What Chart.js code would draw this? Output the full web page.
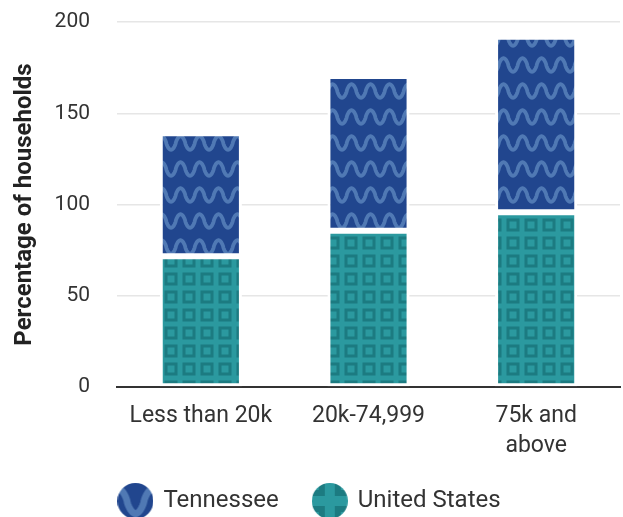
<!DOCTYPE html>
<html>
<head>
<meta charset="utf-8">
<script src="https://cdn.jsdelivr.net/npm/chart.js@4"></script>
<style>
  html, body { margin: 0; padding: 0; background: #fff; overflow: hidden; }
  #wrap { width: 623px; height: 523px; }
</style>
</head>
<body>
<div id="wrap"><canvas id="chart" width="623" height="523"></canvas></div>
<script>
const categories = ['Less than 20k', '20k-74,999', ['75k and', 'above']];
const unitedStates = [71.6, 85.6, 95.7];
const tennessee = [67.4, 84.8, 96.2];
const yTicks = [0, 50, 100, 150, 200];

const NAVY = '#21468e';
const NAVY_WAVE = '#5079b4';
const TEAL = '#2b999f';
const TEAL_DARK = '#1c7b81';

// wavy pattern for Tennessee
function waveTile(s) {
  const w = 19 * s, h = 26 * s;
  const c = document.createElement('canvas');
  c.width = w; c.height = h;
  const g = c.getContext('2d');
  g.fillStyle = NAVY;
  g.fillRect(0, 0, w, h);
  g.strokeStyle = NAVY_WAVE;
  g.lineWidth = 3.8 * s;
  g.lineJoin = 'round';
  const amp = 6.8 * s, mid = h / 2;
  g.beginPath();
  for (let x = -3; x <= w + 3; x += 0.5) {
    // sharpened sine so the crests look like a zigzag
    const t = Math.cos(2 * Math.PI * x / w);
    const y = mid + amp * Math.sign(t) * Math.pow(Math.abs(t), 0.75);
    if (x === -3) g.moveTo(x, y); else g.lineTo(x, y);
  }
  g.stroke();
  return c;
}

// square grid pattern for United States
function squareTile(s) {
  const w = 18 * s;
  const c = document.createElement('canvas');
  c.width = w; c.height = w;
  const g = c.getContext('2d');
  g.fillStyle = TEAL;
  g.fillRect(0, 0, w, w);
  g.strokeStyle = TEAL_DARK;
  g.lineWidth = 3 * s;
  g.strokeRect(4 * s, 4 * s, 10 * s, 10 * s);
  return c;
}

function legendIcon(tile, dx, dy) {
  const c = document.createElement('canvas');
  c.width = 36; c.height = 36;
  const g = c.getContext('2d');
  g.beginPath();
  g.arc(18, 18, 18, 0, Math.PI * 2);
  g.clip();
  g.translate(dx, dy);
  g.fillStyle = g.createPattern(tile, 'repeat');
  g.fillRect(-dx, -dy, 36, 36);
  return c;
}

const ctx = document.getElementById('chart').getContext('2d');
const tnPattern = ctx.createPattern(waveTile(1), 'repeat');
const usPattern = ctx.createPattern(squareTile(1), 'repeat');
const tnIcon = legendIcon(waveTile(1.8), 18, -5);
const usIcon = legendIcon(squareTile(2), 18, 18);

new Chart(ctx, {
  type: 'bar',
  data: {
    labels: categories,
    datasets: [
      {
        label: 'United States',
        data: unitedStates,
        backgroundColor: usPattern,
        borderColor: '#ffffff',
        borderWidth: 3,
        borderSkipped: false
      },
      {
        label: 'Tennessee',
        data: tennessee,
        backgroundColor: tnPattern,
        borderColor: '#ffffff',
        borderWidth: 3,
        borderSkipped: false
      }
    ]
  },
  options: {
    responsive: false,
    animation: false,
    datasets: {
      bar: { categoryPercentage: 1, barPercentage: 0.49 }
    },
    layout: { padding: { top: 22, right: 3, left: 0, bottom: 0 } },
    scales: {
      x: {
        stacked: true,
        grid: { display: false, drawTicks: false },
        border: { display: true, color: '#333333', width: 2 },
        ticks: {
          padding: 14,
          color: '#333333',
          font: { family: 'Roboto', size: 23, lineHeight: 1.3 }
        },
        afterFit: (scale) => { scale.height = 67; }
      },
      y: {
        stacked: true,
        min: 0,
        max: 200,
        afterBuildTicks: (scale) => { scale.ticks = yTicks.map(v => ({ value: v })); },
        grid: { color: '#e6e6e6', lineWidth: 1.5, drawTicks: true, tickLength: 25, tickColor: 'rgba(0,0,0,0)' },
        border: { display: false },
        ticks: {
          padding: 2,
          color: '#333333',
          font: { family: 'Roboto', size: 21 }
        },
        title: {
          display: true,
          text: 'Percentage of households',
          color: '#222222',
          padding: { top: 11, bottom: 0 },
          font: { family: 'Roboto', size: 24, weight: 'bold' }
        },
        afterFit: (scale) => { scale.width = 117; }
      }
    },
    plugins: {
      tooltip: { enabled: false },
      legend: {
        position: 'bottom',
        reverse: true,
        labels: {
          usePointStyle: true,
          pointStyleWidth: 32,
          padding: 35,
          color: '#333333',
          font: { family: 'Roboto', size: 24 },
          generateLabels: (chart) => {
            const items = Chart.defaults.plugins.legend.labels.generateLabels(chart);
            items.forEach(it => {
              it.pointStyle = it.datasetIndex === 1 ? tnIcon : usIcon;
              it.lineWidth = 0;
            });
            return items;
          }
        }
      }
    }
  }
});
</script>
</body>
</html>
